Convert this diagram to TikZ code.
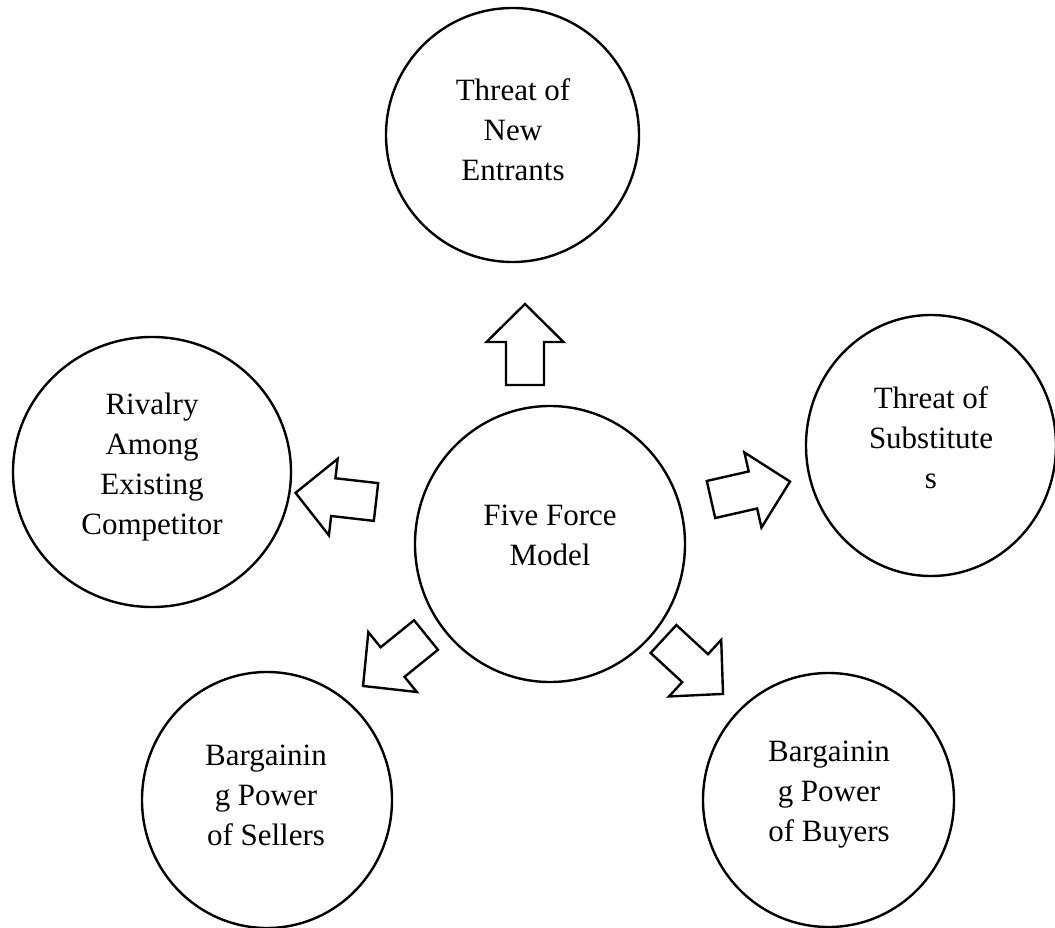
\documentclass[tikz,border=0pt]{standalone}
\usepackage{fontspec}
\setmainfont{Liberation Serif}
\usetikzlibrary{shapes.geometric}
\tikzset{
  force/.style={draw, ellipse, line width=2.4pt, inner sep=0pt},
  lbl/.style={align=center, font=\fontsize{31}{40}\selectfont, inner sep=0pt},
  % hollow block arrow: tail centre at the origin, pointing along +x
  blockarrow/.pic={
    \draw[line width=2.4pt, line join=miter]
      (0,-19) -- (43,-19) -- (43,-38.5) -- (81,0) -- (43,38.5) -- (43,19) -- (0,19) -- cycle;
  }
}
\begin{document}
\begin{tikzpicture}[x=1pt,y=-1pt]
\useasboundingbox (0,0) rectangle (1055,928);
\clip (0,0) rectangle (1055,928);

% the six forces
\node[force, minimum width=253pt, minimum height=254pt] (entrants) at (512.5,135) {};
\node[force, minimum width=278pt, minimum height=270pt] (rivalry) at (152,472) {};
\node[force, minimum width=270pt, minimum height=276pt] (model) at (550,544) {};
\node[force, minimum width=250pt, minimum height=261pt] (subst) at (931,445.5) {};
\node[force, minimum width=250pt, minimum height=256pt] (sellers) at (267,800) {};
\node[force, minimum width=251pt, minimum height=254pt] (buyers) at (828.5,800) {};

% labels
\node[lbl] (t-entrants) at (513,130) {Threat of\\New\\Entrants};
\node[lbl] (t-rivalry) at (152,467) {Rivalry\\Among\\Existing\\Competitor};
\node[lbl] (t-model) at (550,535) {Five Force\\Model};
\node[lbl] (t-subst) at (931,438) {Threat of\\Substitute\\s};
\node[lbl] (t-sellers) at (266,795) {Bargainin\\g Power\\of Sellers};
\node[lbl] (t-buyers) at (829,795) {Bargainin\\g Power\\of Buyers};

% arrows pointing out from the model
\pic[rotate=90]    at (525,385)   {blockarrow};
\pic[rotate=173.5] at (376,502)   {blockarrow};
\pic[rotate=12.8]  at (711,499.5) {blockarrow};
\pic[rotate=219]   at (426,635)   {blockarrow};
\pic[rotate=-42.7] at (663.5,639) {blockarrow};
\end{tikzpicture}
\end{document}
